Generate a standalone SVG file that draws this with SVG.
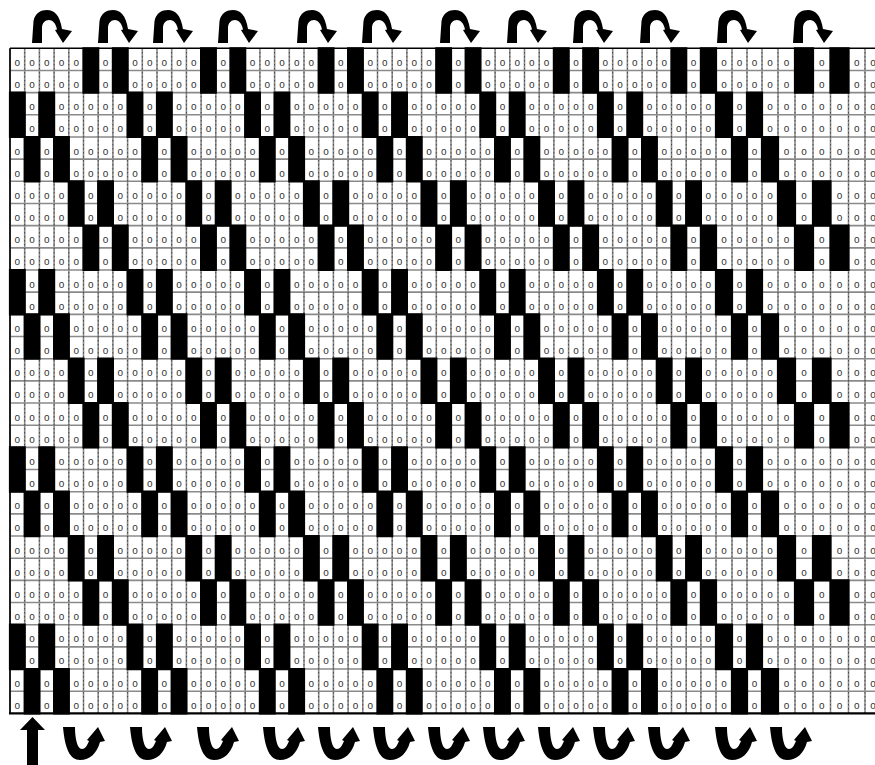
<svg xmlns="http://www.w3.org/2000/svg" xmlns:xlink="http://www.w3.org/1999/xlink" width="875" height="765" viewBox="0 0 875 765">
<style>
.g{fill:none;stroke:#8a8a8a;stroke-width:1.6}
.dd{fill:none;stroke:#222;stroke-width:0.9;stroke-dasharray:1 3}
.o{font-family:"Liberation Sans",Arial,sans-serif;font-size:10px;fill:#333}
.blk{fill:#000;stroke:#000;stroke-width:2.2}
.arr{fill:#000}
</style>
<defs>
<path id="pA" class="blk" d="M10 0H24.7V44.34H10Z M39.4 0H54.1V44.34H39.4Z M127.6 0H142.3V44.34H127.6Z M157 0H171.7V44.34H157Z M245.2 0H259.9V44.34H245.2Z M274.6 0H289.3V44.34H274.6Z M362.8 0H377.5V44.34H362.8Z M392.2 0H406.9V44.34H392.2Z M480.4 0H495.1V44.34H480.4Z M509.8 0H524.5V44.34H509.8Z M598 0H612.7V44.34H598Z M627.4 0H642.1V44.34H627.4Z M716 0H732V44.34H716Z M747 0H762V44.34H747Z"/>
<path id="pB" class="blk" d="M24.7 0H39.4V44.34H24.7Z M54.1 0H68.8V44.34H54.1Z M142.3 0H157V44.34H142.3Z M171.7 0H186.4V44.34H171.7Z M259.9 0H274.6V44.34H259.9Z M289.3 0H304V44.34H289.3Z M377.5 0H392.2V44.34H377.5Z M406.9 0H421.6V44.34H406.9Z M495.1 0H509.8V44.34H495.1Z M524.5 0H539.2V44.34H524.5Z M612.7 0H627.4V44.34H612.7Z M642.1 0H656.8V44.34H642.1Z M732 0H747V44.34H732Z M762 0H778V44.34H762Z"/>
<path id="pC" class="blk" d="M68.8 0H83.5V44.34H68.8Z M98.2 0H112.9V44.34H98.2Z M186.4 0H201.1V44.34H186.4Z M215.8 0H230.5V44.34H215.8Z M304 0H318.7V44.34H304Z M333.4 0H348.1V44.34H333.4Z M421.6 0H436.3V44.34H421.6Z M451 0H465.7V44.34H451Z M539.2 0H553.9V44.34H539.2Z M568.6 0H583.3V44.34H568.6Z M656.8 0H671.5V44.34H656.8Z M686.2 0H700.9V44.34H686.2Z M778 0H795V44.34H778Z M813 0H830.5V44.34H813Z"/>
<path id="pD" class="blk" d="M83.5 0H98.2V44.34H83.5Z M112.9 0H127.6V44.34H112.9Z M201.1 0H215.8V44.34H201.1Z M230.5 0H245.2V44.34H230.5Z M318.7 0H333.4V44.34H318.7Z M348.1 0H362.8V44.34H348.1Z M436.3 0H451V44.34H436.3Z M465.7 0H480.4V44.34H465.7Z M553.9 0H568.6V44.34H553.9Z M583.3 0H598V44.34H583.3Z M671.5 0H686.2V44.34H671.5Z M700.9 0H716V44.34H700.9Z M795 0H813V44.34H795Z M830.5 0H848.5V44.34H830.5Z"/>
<path id="topArr" class="arr" d="M0 0 L1.5 -22 C3 -30 9 -33 15 -33 C22 -33 28 -28 30 -14 L40 -12 L31 0 L23 -13 L25 -13.5 C24 -19 21 -23 17 -23 C13 -23 10 -20 10 -15 L10 0 Z"/>
<path id="uArr" class="arr" d="M0 0 L12 0 C12 10 14 22 19 22 C22 22 24 19 26 14 L24 13 L35 0 L42 14 L37 15 C34 26 27 33 17 33 C7 33 2 22 0 0 Z"/>
</defs>
<rect width="875" height="765" fill="#fff"/>
<g id="grid">
<path class="g" d="M10 48.3v665.1M24.7 48.3v665.1M39.4 48.3v665.1M54.1 48.3v665.1M68.8 48.3v665.1M83.5 48.3v665.1M98.2 48.3v665.1M112.9 48.3v665.1M127.6 48.3v665.1M142.3 48.3v665.1M157 48.3v665.1M171.7 48.3v665.1M186.4 48.3v665.1M201.1 48.3v665.1M215.8 48.3v665.1M230.5 48.3v665.1M245.2 48.3v665.1M259.9 48.3v665.1M274.6 48.3v665.1M289.3 48.3v665.1M304 48.3v665.1M318.7 48.3v665.1M333.4 48.3v665.1M348.1 48.3v665.1M362.8 48.3v665.1M377.5 48.3v665.1M392.2 48.3v665.1M406.9 48.3v665.1M421.6 48.3v665.1M436.3 48.3v665.1M451 48.3v665.1M465.7 48.3v665.1M480.4 48.3v665.1M495.1 48.3v665.1M509.8 48.3v665.1M524.5 48.3v665.1M539.2 48.3v665.1M553.9 48.3v665.1M568.6 48.3v665.1M583.3 48.3v665.1M598 48.3v665.1M612.7 48.3v665.1M627.4 48.3v665.1M642.1 48.3v665.1M656.8 48.3v665.1M671.5 48.3v665.1M686.2 48.3v665.1M700.9 48.3v665.1M716 48.3v665.1M732 48.3v665.1M747 48.3v665.1M762 48.3v665.1M778 48.3v665.1M795 48.3v665.1M813 48.3v665.1M830.5 48.3v665.1M848.5 48.3v665.1M865 48.3v665.1"/>
<path class="g" d="M10 70.47H875M10 92.64H875M10 114.81H875M10 136.98H875M10 159.15H875M10 181.32H875M10 203.49H875M10 225.66H875M10 247.83H875M10 270H875M10 292.17H875M10 314.34H875M10 336.51H875M10 358.68H875M10 380.85H875M10 403.02H875M10 425.19H875M10 447.36H875M10 469.53H875M10 491.7H875M10 513.87H875M10 536.04H875M10 558.21H875M10 580.38H875M10 602.55H875M10 624.72H875M10 646.89H875M10 669.06H875M10 691.23H875"/>
<path class="dd" d="M24.7 48.3v665.1M39.4 48.3v665.1M54.1 48.3v665.1M68.8 48.3v665.1M83.5 48.3v665.1M98.2 48.3v665.1M112.9 48.3v665.1M127.6 48.3v665.1M142.3 48.3v665.1M157 48.3v665.1M171.7 48.3v665.1M186.4 48.3v665.1M201.1 48.3v665.1M215.8 48.3v665.1M230.5 48.3v665.1M245.2 48.3v665.1M259.9 48.3v665.1M274.6 48.3v665.1M289.3 48.3v665.1M304 48.3v665.1M318.7 48.3v665.1M333.4 48.3v665.1M348.1 48.3v665.1M362.8 48.3v665.1M377.5 48.3v665.1M392.2 48.3v665.1M406.9 48.3v665.1M421.6 48.3v665.1M436.3 48.3v665.1M451 48.3v665.1M465.7 48.3v665.1M480.4 48.3v665.1M495.1 48.3v665.1M509.8 48.3v665.1M524.5 48.3v665.1M539.2 48.3v665.1M553.9 48.3v665.1M568.6 48.3v665.1M583.3 48.3v665.1M598 48.3v665.1M612.7 48.3v665.1M627.4 48.3v665.1M642.1 48.3v665.1M656.8 48.3v665.1M671.5 48.3v665.1M686.2 48.3v665.1M700.9 48.3v665.1M716 48.3v665.1M732 48.3v665.1M747 48.3v665.1M762 48.3v665.1M778 48.3v665.1M795 48.3v665.1M813 48.3v665.1M830.5 48.3v665.1M848.5 48.3v665.1M865 48.3v665.1"/>
<path fill="none" stroke="#000" stroke-width="1.6" d="M10 48.3H875M10 48.3V713.4"/>
<path fill="none" stroke="#000" stroke-width="2.4" d="M9 713.4H875"/>
</g>
<g id="blocks">
<use xlink:href="#pD" y="48.3"/>
<use xlink:href="#pA" y="92.64"/>
<use xlink:href="#pB" y="136.98"/>
<use xlink:href="#pC" y="181.32"/>
<use xlink:href="#pD" y="225.66"/>
<use xlink:href="#pA" y="270"/>
<use xlink:href="#pB" y="314.34"/>
<use xlink:href="#pC" y="358.68"/>
<use xlink:href="#pD" y="403.02"/>
<use xlink:href="#pA" y="447.36"/>
<use xlink:href="#pB" y="491.7"/>
<use xlink:href="#pC" y="536.04"/>
<use xlink:href="#pD" y="580.38"/>
<use xlink:href="#pA" y="624.72"/>
<use xlink:href="#pB" y="669.06"/>
</g>
<g id="marks" class="o" transform="translate(-2.78 0)">
<text y="65.8" x="17.4 32.1 46.8 61.5 76.2 105.6 135 149.7 164.4 179.1 193.8 223.2 252.6 267.3 282 296.7 311.4 340.8 370.2 384.9 399.6 414.3 429 458.4 487.8 502.5 517.2 531.9 546.6 576 605.4 620.1 634.8 649.5 664.2 693.6 724 739.5 754.5 770 786.5 821.8 856.8 873">oooooooooooooooooooooooooooooooooooooooooooo</text>
<text y="88" x="17.4 32.1 46.8 61.5 76.2 105.6 135 149.7 164.4 179.1 193.8 223.2 252.6 267.3 282 296.7 311.4 340.8 370.2 384.9 399.6 414.3 429 458.4 487.8 502.5 517.2 531.9 546.6 576 605.4 620.1 634.8 649.5 664.2 693.6 724 739.5 754.5 770 786.5 821.8 856.8 873">oooooooooooooooooooooooooooooooooooooooooooo</text>
<text y="110.1" x="32.1 61.5 76.2 90.9 105.6 120.3 149.7 179.1 193.8 208.5 223.2 237.9 267.3 296.7 311.4 326.1 340.8 355.5 384.9 414.3 429 443.7 458.4 473.1 502.5 531.9 546.6 561.3 576 590.7 620.1 649.5 664.2 678.9 693.6 708.3 739.5 770 786.5 804 821.8 839.5 856.8 873">oooooooooooooooooooooooooooooooooooooooooooo</text>
<text y="132.3" x="32.1 61.5 76.2 90.9 105.6 120.3 149.7 179.1 193.8 208.5 223.2 237.9 267.3 296.7 311.4 326.1 340.8 355.5 384.9 414.3 429 443.7 458.4 473.1 502.5 531.9 546.6 561.3 576 590.7 620.1 649.5 664.2 678.9 693.6 708.3 739.5 770 786.5 804 821.8 839.5 856.8 873">oooooooooooooooooooooooooooooooooooooooooooo</text>
<text y="154.5" x="17.4 46.8 76.2 90.9 105.6 120.3 135 164.4 193.8 208.5 223.2 237.9 252.6 282 311.4 326.1 340.8 355.5 370.2 399.6 429 443.7 458.4 473.1 487.8 517.2 546.6 561.3 576 590.7 605.4 634.8 664.2 678.9 693.6 708.3 724 754.5 786.5 804 821.8 839.5 856.8 873">oooooooooooooooooooooooooooooooooooooooooooo</text>
<text y="176.7" x="17.4 46.8 76.2 90.9 105.6 120.3 135 164.4 193.8 208.5 223.2 237.9 252.6 282 311.4 326.1 340.8 355.5 370.2 399.6 429 443.7 458.4 473.1 487.8 517.2 546.6 561.3 576 590.7 605.4 634.8 664.2 678.9 693.6 708.3 724 754.5 786.5 804 821.8 839.5 856.8 873">oooooooooooooooooooooooooooooooooooooooooooo</text>
<text y="198.8" x="17.4 32.1 46.8 61.5 90.9 120.3 135 149.7 164.4 179.1 208.5 237.9 252.6 267.3 282 296.7 326.1 355.5 370.2 384.9 399.6 414.3 443.7 473.1 487.8 502.5 517.2 531.9 561.3 590.7 605.4 620.1 634.8 649.5 678.9 708.3 724 739.5 754.5 770 804 839.5 856.8 873">oooooooooooooooooooooooooooooooooooooooooooo</text>
<text y="221" x="17.4 32.1 46.8 61.5 90.9 120.3 135 149.7 164.4 179.1 208.5 237.9 252.6 267.3 282 296.7 326.1 355.5 370.2 384.9 399.6 414.3 443.7 473.1 487.8 502.5 517.2 531.9 561.3 590.7 605.4 620.1 634.8 649.5 678.9 708.3 724 739.5 754.5 770 804 839.5 856.8 873">oooooooooooooooooooooooooooooooooooooooooooo</text>
<text y="243.2" x="17.4 32.1 46.8 61.5 76.2 105.6 135 149.7 164.4 179.1 193.8 223.2 252.6 267.3 282 296.7 311.4 340.8 370.2 384.9 399.6 414.3 429 458.4 487.8 502.5 517.2 531.9 546.6 576 605.4 620.1 634.8 649.5 664.2 693.6 724 739.5 754.5 770 786.5 821.8 856.8 873">oooooooooooooooooooooooooooooooooooooooooooo</text>
<text y="265.3" x="17.4 32.1 46.8 61.5 76.2 105.6 135 149.7 164.4 179.1 193.8 223.2 252.6 267.3 282 296.7 311.4 340.8 370.2 384.9 399.6 414.3 429 458.4 487.8 502.5 517.2 531.9 546.6 576 605.4 620.1 634.8 649.5 664.2 693.6 724 739.5 754.5 770 786.5 821.8 856.8 873">oooooooooooooooooooooooooooooooooooooooooooo</text>
<text y="287.5" x="32.1 61.5 76.2 90.9 105.6 120.3 149.7 179.1 193.8 208.5 223.2 237.9 267.3 296.7 311.4 326.1 340.8 355.5 384.9 414.3 429 443.7 458.4 473.1 502.5 531.9 546.6 561.3 576 590.7 620.1 649.5 664.2 678.9 693.6 708.3 739.5 770 786.5 804 821.8 839.5 856.8 873">oooooooooooooooooooooooooooooooooooooooooooo</text>
<text y="309.7" x="32.1 61.5 76.2 90.9 105.6 120.3 149.7 179.1 193.8 208.5 223.2 237.9 267.3 296.7 311.4 326.1 340.8 355.5 384.9 414.3 429 443.7 458.4 473.1 502.5 531.9 546.6 561.3 576 590.7 620.1 649.5 664.2 678.9 693.6 708.3 739.5 770 786.5 804 821.8 839.5 856.8 873">oooooooooooooooooooooooooooooooooooooooooooo</text>
<text y="331.8" x="17.4 46.8 76.2 90.9 105.6 120.3 135 164.4 193.8 208.5 223.2 237.9 252.6 282 311.4 326.1 340.8 355.5 370.2 399.6 429 443.7 458.4 473.1 487.8 517.2 546.6 561.3 576 590.7 605.4 634.8 664.2 678.9 693.6 708.3 724 754.5 786.5 804 821.8 839.5 856.8 873">oooooooooooooooooooooooooooooooooooooooooooo</text>
<text y="354" x="17.4 46.8 76.2 90.9 105.6 120.3 135 164.4 193.8 208.5 223.2 237.9 252.6 282 311.4 326.1 340.8 355.5 370.2 399.6 429 443.7 458.4 473.1 487.8 517.2 546.6 561.3 576 590.7 605.4 634.8 664.2 678.9 693.6 708.3 724 754.5 786.5 804 821.8 839.5 856.8 873">oooooooooooooooooooooooooooooooooooooooooooo</text>
<text y="376.2" x="17.4 32.1 46.8 61.5 90.9 120.3 135 149.7 164.4 179.1 208.5 237.9 252.6 267.3 282 296.7 326.1 355.5 370.2 384.9 399.6 414.3 443.7 473.1 487.8 502.5 517.2 531.9 561.3 590.7 605.4 620.1 634.8 649.5 678.9 708.3 724 739.5 754.5 770 804 839.5 856.8 873">oooooooooooooooooooooooooooooooooooooooooooo</text>
<text y="398.4" x="17.4 32.1 46.8 61.5 90.9 120.3 135 149.7 164.4 179.1 208.5 237.9 252.6 267.3 282 296.7 326.1 355.5 370.2 384.9 399.6 414.3 443.7 473.1 487.8 502.5 517.2 531.9 561.3 590.7 605.4 620.1 634.8 649.5 678.9 708.3 724 739.5 754.5 770 804 839.5 856.8 873">oooooooooooooooooooooooooooooooooooooooooooo</text>
<text y="420.5" x="17.4 32.1 46.8 61.5 76.2 105.6 135 149.7 164.4 179.1 193.8 223.2 252.6 267.3 282 296.7 311.4 340.8 370.2 384.9 399.6 414.3 429 458.4 487.8 502.5 517.2 531.9 546.6 576 605.4 620.1 634.8 649.5 664.2 693.6 724 739.5 754.5 770 786.5 821.8 856.8 873">oooooooooooooooooooooooooooooooooooooooooooo</text>
<text y="442.7" x="17.4 32.1 46.8 61.5 76.2 105.6 135 149.7 164.4 179.1 193.8 223.2 252.6 267.3 282 296.7 311.4 340.8 370.2 384.9 399.6 414.3 429 458.4 487.8 502.5 517.2 531.9 546.6 576 605.4 620.1 634.8 649.5 664.2 693.6 724 739.5 754.5 770 786.5 821.8 856.8 873">oooooooooooooooooooooooooooooooooooooooooooo</text>
<text y="464.9" x="32.1 61.5 76.2 90.9 105.6 120.3 149.7 179.1 193.8 208.5 223.2 237.9 267.3 296.7 311.4 326.1 340.8 355.5 384.9 414.3 429 443.7 458.4 473.1 502.5 531.9 546.6 561.3 576 590.7 620.1 649.5 664.2 678.9 693.6 708.3 739.5 770 786.5 804 821.8 839.5 856.8 873">oooooooooooooooooooooooooooooooooooooooooooo</text>
<text y="487" x="32.1 61.5 76.2 90.9 105.6 120.3 149.7 179.1 193.8 208.5 223.2 237.9 267.3 296.7 311.4 326.1 340.8 355.5 384.9 414.3 429 443.7 458.4 473.1 502.5 531.9 546.6 561.3 576 590.7 620.1 649.5 664.2 678.9 693.6 708.3 739.5 770 786.5 804 821.8 839.5 856.8 873">oooooooooooooooooooooooooooooooooooooooooooo</text>
<text y="509.2" x="17.4 46.8 76.2 90.9 105.6 120.3 135 164.4 193.8 208.5 223.2 237.9 252.6 282 311.4 326.1 340.8 355.5 370.2 399.6 429 443.7 458.4 473.1 487.8 517.2 546.6 561.3 576 590.7 605.4 634.8 664.2 678.9 693.6 708.3 724 754.5 786.5 804 821.8 839.5 856.8 873">oooooooooooooooooooooooooooooooooooooooooooo</text>
<text y="531.4" x="17.4 46.8 76.2 90.9 105.6 120.3 135 164.4 193.8 208.5 223.2 237.9 252.6 282 311.4 326.1 340.8 355.5 370.2 399.6 429 443.7 458.4 473.1 487.8 517.2 546.6 561.3 576 590.7 605.4 634.8 664.2 678.9 693.6 708.3 724 754.5 786.5 804 821.8 839.5 856.8 873">oooooooooooooooooooooooooooooooooooooooooooo</text>
<text y="553.5" x="17.4 32.1 46.8 61.5 90.9 120.3 135 149.7 164.4 179.1 208.5 237.9 252.6 267.3 282 296.7 326.1 355.5 370.2 384.9 399.6 414.3 443.7 473.1 487.8 502.5 517.2 531.9 561.3 590.7 605.4 620.1 634.8 649.5 678.9 708.3 724 739.5 754.5 770 804 839.5 856.8 873">oooooooooooooooooooooooooooooooooooooooooooo</text>
<text y="575.7" x="17.4 32.1 46.8 61.5 90.9 120.3 135 149.7 164.4 179.1 208.5 237.9 252.6 267.3 282 296.7 326.1 355.5 370.2 384.9 399.6 414.3 443.7 473.1 487.8 502.5 517.2 531.9 561.3 590.7 605.4 620.1 634.8 649.5 678.9 708.3 724 739.5 754.5 770 804 839.5 856.8 873">oooooooooooooooooooooooooooooooooooooooooooo</text>
<text y="597.9" x="17.4 32.1 46.8 61.5 76.2 105.6 135 149.7 164.4 179.1 193.8 223.2 252.6 267.3 282 296.7 311.4 340.8 370.2 384.9 399.6 414.3 429 458.4 487.8 502.5 517.2 531.9 546.6 576 605.4 620.1 634.8 649.5 664.2 693.6 724 739.5 754.5 770 786.5 821.8 856.8 873">oooooooooooooooooooooooooooooooooooooooooooo</text>
<text y="620.1" x="17.4 32.1 46.8 61.5 76.2 105.6 135 149.7 164.4 179.1 193.8 223.2 252.6 267.3 282 296.7 311.4 340.8 370.2 384.9 399.6 414.3 429 458.4 487.8 502.5 517.2 531.9 546.6 576 605.4 620.1 634.8 649.5 664.2 693.6 724 739.5 754.5 770 786.5 821.8 856.8 873">oooooooooooooooooooooooooooooooooooooooooooo</text>
<text y="642.2" x="32.1 61.5 76.2 90.9 105.6 120.3 149.7 179.1 193.8 208.5 223.2 237.9 267.3 296.7 311.4 326.1 340.8 355.5 384.9 414.3 429 443.7 458.4 473.1 502.5 531.9 546.6 561.3 576 590.7 620.1 649.5 664.2 678.9 693.6 708.3 739.5 770 786.5 804 821.8 839.5 856.8 873">oooooooooooooooooooooooooooooooooooooooooooo</text>
<text y="664.4" x="32.1 61.5 76.2 90.9 105.6 120.3 149.7 179.1 193.8 208.5 223.2 237.9 267.3 296.7 311.4 326.1 340.8 355.5 384.9 414.3 429 443.7 458.4 473.1 502.5 531.9 546.6 561.3 576 590.7 620.1 649.5 664.2 678.9 693.6 708.3 739.5 770 786.5 804 821.8 839.5 856.8 873">oooooooooooooooooooooooooooooooooooooooooooo</text>
<text y="686.6" x="17.4 46.8 76.2 90.9 105.6 120.3 135 164.4 193.8 208.5 223.2 237.9 252.6 282 311.4 326.1 340.8 355.5 370.2 399.6 429 443.7 458.4 473.1 487.8 517.2 546.6 561.3 576 590.7 605.4 634.8 664.2 678.9 693.6 708.3 724 754.5 786.5 804 821.8 839.5 856.8 873">oooooooooooooooooooooooooooooooooooooooooooo</text>
<text y="708.7" x="17.4 46.8 76.2 90.9 105.6 120.3 135 164.4 193.8 208.5 223.2 237.9 252.6 282 311.4 326.1 340.8 355.5 370.2 399.6 429 443.7 458.4 473.1 487.8 517.2 546.6 561.3 576 590.7 605.4 634.8 664.2 678.9 693.6 708.3 724 754.5 786.5 804 821.8 839.5 856.8 873">oooooooooooooooooooooooooooooooooooooooooooo</text>
</g>
<g id="top-arrows">
<use xlink:href="#topArr" x="32" y="43"/>
<use xlink:href="#topArr" x="98" y="43"/>
<use xlink:href="#topArr" x="153" y="43"/>
<use xlink:href="#topArr" x="218" y="43"/>
<use xlink:href="#topArr" x="297" y="43"/>
<use xlink:href="#topArr" x="362" y="43"/>
<use xlink:href="#topArr" x="440" y="43"/>
<use xlink:href="#topArr" x="507" y="43"/>
<use xlink:href="#topArr" x="573" y="43"/>
<use xlink:href="#topArr" x="640" y="43"/>
<use xlink:href="#topArr" x="717" y="43"/>
<use xlink:href="#topArr" x="793" y="43"/>
</g>
<g id="bottom-arrows">
<path class="arr" d="M20 730 L32.5 717 L45 730 L38 730 L38 765 L27 765 L27 730 Z"/>
<use xlink:href="#uArr" x="63" y="727"/>
<use xlink:href="#uArr" x="130" y="727"/>
<use xlink:href="#uArr" x="197" y="727"/>
<use xlink:href="#uArr" x="263" y="727"/>
<use xlink:href="#uArr" x="318" y="727"/>
<use xlink:href="#uArr" x="373" y="727"/>
<use xlink:href="#uArr" x="428" y="727"/>
<use xlink:href="#uArr" x="483" y="727"/>
<use xlink:href="#uArr" x="538" y="727"/>
<use xlink:href="#uArr" x="593" y="727"/>
<use xlink:href="#uArr" x="648" y="727"/>
<use xlink:href="#uArr" x="715" y="727"/>
<use xlink:href="#uArr" x="770" y="727"/>
</g>
</svg>
